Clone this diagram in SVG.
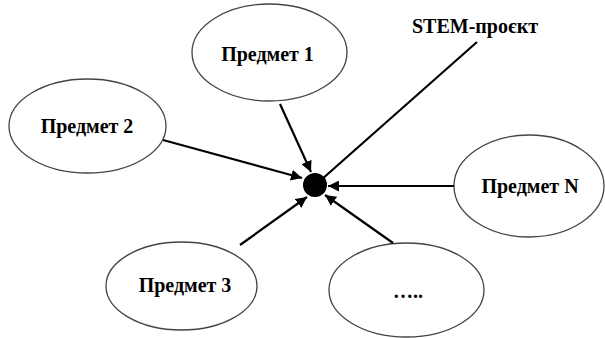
<svg xmlns="http://www.w3.org/2000/svg" width="605" height="338" viewBox="0 0 605 338">
  <style>
    .node ellipse { fill: #fff; stroke: #444; stroke-width: 1.3; }
    .node text, .label { font-family: "Liberation Serif", "Times New Roman", serif; font-weight: bold; font-size: 20px; fill: #000; text-anchor: middle; }
    .edge { stroke: #000; stroke-width: 2.2; fill: none; }
  </style>
  <defs>
    <marker id="arrow" viewBox="0 0 10 10" refX="10" refY="5" markerWidth="5" markerHeight="5" orient="auto" markerUnits="strokeWidth">
      <path d="M0,0 L10,5 L0,10 z" fill="#000"/>
    </marker>
  </defs>
  <rect width="605" height="338" fill="#fff"/>

  <g id="subject-1" class="node">
    <ellipse cx="269.5" cy="52.5" rx="77.5" ry="48.5"/>
    <text x="267.5" y="61">Предмет 1</text>
  </g>
  <g id="subject-2" class="node">
    <ellipse cx="87.5" cy="126" rx="78.5" ry="47"/>
    <text x="87" y="133">Предмет 2</text>
  </g>
  <g id="subject-n" class="node">
    <ellipse cx="529" cy="186" rx="75" ry="51"/>
    <text x="530" y="193">Предмет N</text>
  </g>
  <g id="subject-3" class="node">
    <ellipse cx="181.5" cy="286" rx="75.5" ry="44"/>
    <text x="185" y="292">Предмет 3</text>
  </g>
  <g id="subject-more" class="node">
    <ellipse cx="406.5" cy="290" rx="77.5" ry="47"/>
    <text x="408" y="298">…..</text>
  </g>

  <g id="stem-label">
    <text class="label" x="475" y="33">STEM-проєкт</text>
  </g>

  <g id="connectors">
    <line class="edge" x1="280" y1="104" x2="311" y2="172" marker-end="url(#arrow)"/>
    <line class="edge" x1="163" y1="140" x2="302" y2="178" marker-end="url(#arrow)"/>
    <line class="edge" x1="454" y1="186" x2="328" y2="186" marker-end="url(#arrow)"/>
    <line class="edge" x1="240" y1="245" x2="307" y2="197" marker-end="url(#arrow)"/>
    <line class="edge" x1="393" y1="243" x2="325" y2="195" marker-end="url(#arrow)"/>
    <line class="edge" x1="321" y1="180" x2="477" y2="42"/>
  </g>

  <g id="hub">
    <circle cx="315" cy="185" r="12" fill="#000"/>
  </g>
</svg>
